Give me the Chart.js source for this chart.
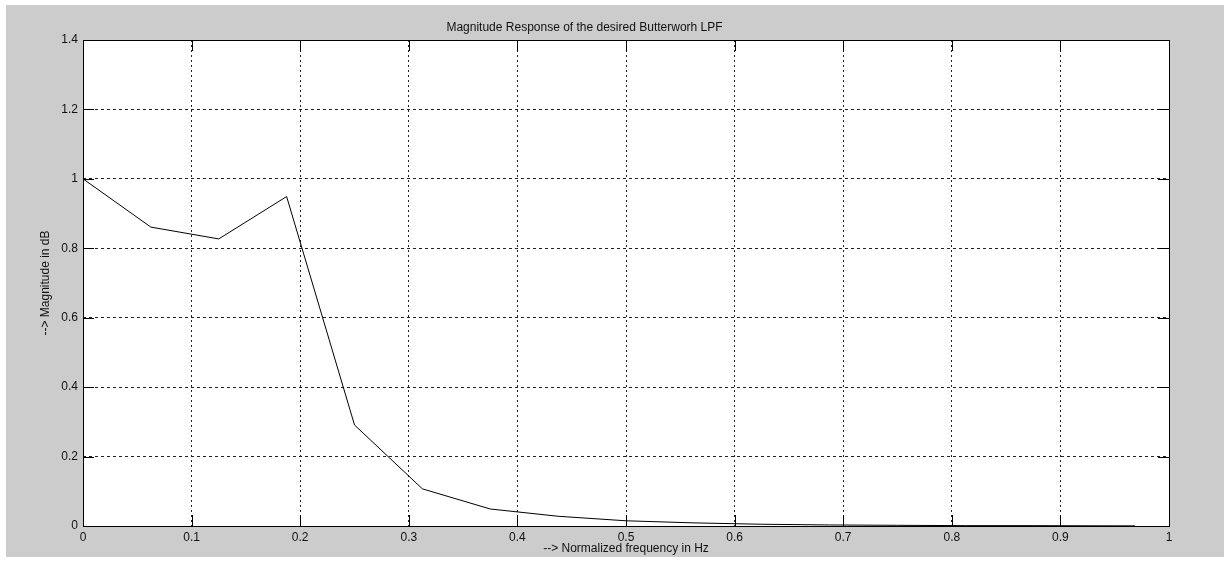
<!DOCTYPE html>
<html>
<head>
<meta charset="utf-8">
<title>Butterworth LPF magnitude</title>
<script src="https://cdn.jsdelivr.net/npm/chart.js@4.4.1/dist/chart.umd.min.js"></script>
<style>
  html, body { margin: 0; padding: 0; background: #fff; }
  canvas { display: block; }
</style>
</head>
<body>
<canvas id="lpf" width="1224" height="573"></canvas>
<script>
// frequency samples (normalized) and |H| at each one
const freqHz = [0, 0.0625, 0.125, 0.1875, 0.25, 0.3125, 0.375, 0.4375, 0.5,
  0.5625, 0.625, 0.6875, 0.75, 0.8125, 0.875, 0.9375, 0.96875];
const magnitude = [1.0, 0.861, 0.827, 0.949, 0.291, 0.107, 0.049, 0.028, 0.015,
  0.009, 0.005, 0.003, 0.002, 0.001, 0.001, 0.0005, 0.0004];

const xTickLabels = ['0', '0.1', '0.2', '0.3', '0.4', '0.5', '0.6', '0.7', '0.8', '0.9', '1'];
const yTickLabels = ['0', '0.2', '0.4', '0.6', '0.8', '1', '1.2', '1.4'];

const FONT = '"Liberation Sans", Arial, sans-serif';
const INK = '#111';

// grey figure window behind the axes
const figureBg = {
  id: 'figureBg',
  beforeDraw(chart) {
    const ctx = chart.ctx;
    ctx.save();
    ctx.fillStyle = '#fff';
    ctx.fillRect(0, 0, chart.width, chart.height);
    ctx.fillStyle = '#cccccc';
    ctx.fillRect(6, 5, chart.width - 6, 552);
    ctx.restore();
  },
  beforeDatasetsDraw(chart) {
    // white plot box is painted by the chartArea fill below the grid
  }
};

const plotBox = {
  id: 'plotBox',
  beforeDraw(chart) {
    const {ctx, chartArea: a} = chart;
    ctx.save();
    ctx.fillStyle = '#fff';
    ctx.fillRect(a.left, a.top, a.right - a.left, a.bottom - a.top);
    ctx.restore();
  },
  afterDatasetsDraw(chart) {
    const {ctx, chartArea: a, scales} = chart;
    const len = 11;
    ctx.save();
    ctx.strokeStyle = '#000';
    ctx.lineWidth = 1;
    ctx.beginPath();
    // inward tick marks on all four sides
    scales.x.ticks.forEach(t => {
      const px = Math.round(scales.x.getPixelForValue(t.value)) + 0.5;
      ctx.moveTo(px, a.bottom); ctx.lineTo(px, a.bottom - len);
      ctx.moveTo(px, a.top); ctx.lineTo(px, a.top + len);
    });
    scales.y.ticks.forEach(t => {
      const py = Math.round(scales.y.getPixelForValue(t.value)) + 0.5;
      ctx.moveTo(a.left, py); ctx.lineTo(a.left + len, py);
      ctx.moveTo(a.right, py); ctx.lineTo(a.right - len, py);
    });
    ctx.stroke();
    const l = Math.round(a.left) + 0.5, t = Math.round(a.top) + 0.5;
    const r = Math.round(a.right) + 0.5, b = Math.round(a.bottom) + 0.5;
    ctx.strokeRect(l, t, r - l, b - t);
    ctx.restore();
  }
};

new Chart(document.getElementById('lpf').getContext('2d'), {
  type: 'line',
  data: {
    datasets: [{
      data: freqHz.map((f, i) => ({x: f, y: magnitude[i]})),
      borderColor: '#000',
      borderWidth: 1,
      pointRadius: 0,
      tension: 0,
      fill: false
    }]
  },
  options: {
    responsive: false,
    animation: false,
    devicePixelRatio: 1,
    layout: {padding: {left: 0, top: 0, right: 55, bottom: 0}},
    scales: {
      x: {
        type: 'linear',
        min: 0,
        max: 1,
        afterFit(scale) { scale.height = 47; },
        ticks: {
          stepSize: 0.1,
          padding: 4,
          color: INK,
          maxRotation: 0,
          autoSkip: false,
          font: {family: FONT, size: 12},
          callback: (v, i) => xTickLabels[i]
        },
        grid: {color: '#222', lineWidth: 1, drawTicks: false},
        border: {display: false, dash: [2, 3]},
        title: {
          display: true,
          text: '--> Normalized frequency in Hz',
          color: INK,
          font: {family: FONT, size: 12},
          padding: {top: 0, bottom: 16.8}
        }
      },
      y: {
        type: 'linear',
        min: 0,
        max: 1.4,
        afterFit(scale) { scale.width = 83; },
        ticks: {
          stepSize: 0.2,
          padding: 5,
          color: INK,
          autoSkip: false,
          font: {family: FONT, size: 12},
          callback: (v, i) => yTickLabels[i]
        },
        grid: {color: '#222', lineWidth: 1, drawTicks: false},
        border: {display: false, dash: [3, 3]},
        title: {
          display: true,
          text: '--> Magnitude in dB',
          color: INK,
          font: {family: FONT, size: 12},
          padding: {top: 38.8, bottom: 0}
        }
      }
    },
    plugins: {
      legend: {display: false},
      tooltip: {enabled: false},
      title: {
        display: true,
        text: 'Magnitude Response of the desired Butterworh LPF',
        color: INK,
        font: {family: FONT, size: 12, weight: 'normal'},
        padding: {top: 20, bottom: 5.6}
      }
    }
  },
  plugins: [figureBg, plotBox]
});
</script>
</body>
</html>
